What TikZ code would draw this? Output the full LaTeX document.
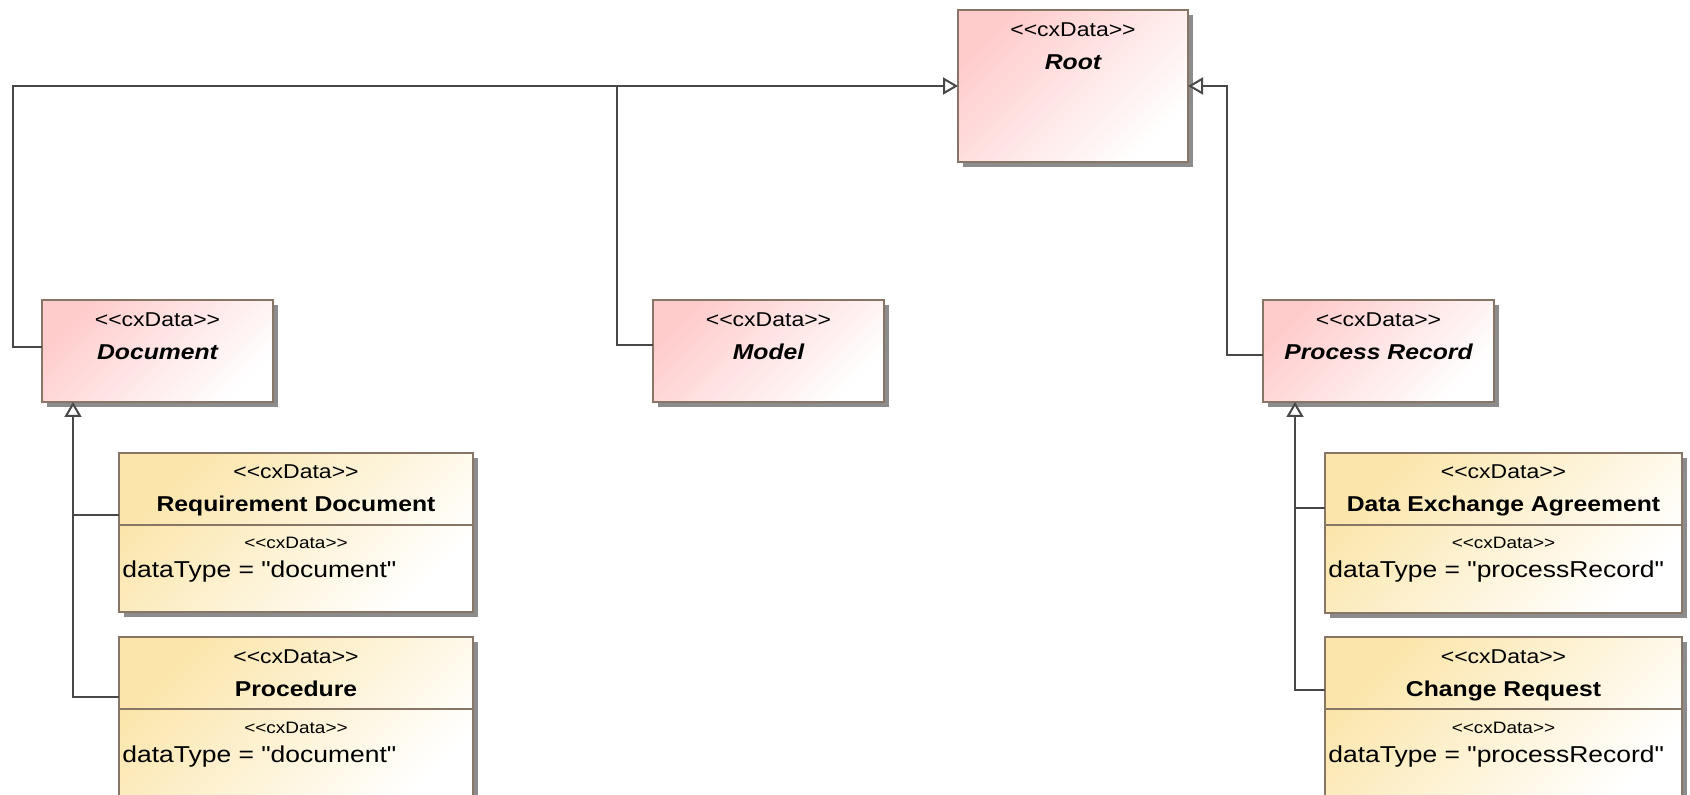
\documentclass[tikz,border=0pt]{standalone}
\usepackage{fontspec}
\setmainfont[FakeStretch=1.15, Ligatures=TeXOff]{Liberation Sans}
\usetikzlibrary{arrows.meta,shadows}

\definecolor{abstrfill}{RGB}{255,204,204}
\definecolor{concfill}{RGB}{251,229,170}
\definecolor{boxline}{RGB}{135,118,102}
\definecolor{wire}{RGB}{72,72,72}

% stereotype text, kerned so << and >> stay two characters
\newcommand{\stname}[1]{<\kern0pt<#1>\kern0pt>}

\begin{document}
\begin{tikzpicture}[x=0.5pt,y=-0.5pt,
  umlbox/.style={rectangle, draw=boxline, line width=1pt, inner sep=0pt,
    outer sep=0pt, anchor=north west,
    drop shadow={shadow xshift=2.5pt, shadow yshift=-2.5pt, opacity=0.45, fill=black}},
  abstractbox/.style={umlbox, top color=abstrfill, bottom color=white,
    shading angle=45, minimum width=115.5pt, minimum height=51pt},
  classbox/.style={umlbox, top color=concfill, bottom color=white,
    shading angle=45},
  stereo/.style={anchor=base, inner sep=0pt,
    font=\fontsize{10pt}{12pt}\selectfont},
  absname/.style={anchor=base, inner sep=0pt,
    font=\fontsize{10.75pt}{13pt}\selectfont\bfseries\itshape},
  clsname/.style={anchor=base, inner sep=0pt,
    font=\fontsize{10.75pt}{13pt}\selectfont\bfseries},
  smallstereo/.style={anchor=base, inner sep=0pt,
    font=\fontsize{8.25pt}{10pt}\selectfont},
  attr/.style={anchor=base west, inner sep=0pt,
    font=\fontsize{11.5pt}{14pt}\selectfont},
  divider/.style={draw=boxline, line width=1pt},
  wireline/.style={draw=wire, line width=1pt},
  gen/.style={wireline, -{Triangle[length=7.5pt, width=8.5pt, fill=white]}}
]
\useasboundingbox (0,0) rectangle (1690,795);
\clip (0,0) rectangle (1690,795);

% ---- abstract classes ----
\node[abstractbox, minimum width=115pt, minimum height=76pt] (root) at (958,10) {};
\node[stereo]  (root-st) at ([yshift=-13.5pt]root.north) {\stname{cxData}};
\node[absname] (root-nm) at ([yshift=-30pt]root.north) {Root};

\node[abstractbox] (doc) at (42,300) {};
\node[stereo]  (doc-st) at ([yshift=-13.5pt]doc.north) {\stname{cxData}};
\node[absname] (doc-nm) at ([yshift=-30pt]doc.north) {Document};

\node[abstractbox] (model) at (653,300) {};
\node[stereo]  (model-st) at ([yshift=-13.5pt]model.north) {\stname{cxData}};
\node[absname] (model-nm) at ([yshift=-30pt]model.north) {Model};

\node[abstractbox] (pr) at (1263,300) {};
\node[stereo]  (pr-st) at ([yshift=-13.5pt]pr.north) {\stname{cxData}};
\node[absname] (pr-nm) at ([yshift=-30pt]pr.north) {Process Record};

% ---- concrete classes with one attribute compartment ----
\node[classbox, minimum width=177pt, minimum height=79.5pt] (req) at (119,453) {};
\node[classbox, minimum width=177pt, minimum height=85pt] (proc) at (119,637) {};
\node[classbox, minimum width=178.5pt, minimum height=80pt] (dea) at (1325,453) {};
\node[classbox, minimum width=178.5pt, minimum height=85pt] (cr) at (1325,637) {};

\foreach \b/\title/\val in {req/Requirement Document/document,
                            proc/Procedure/document,
                            dea/Data Exchange Agreement/processRecord,
                            cr/Change Request/processRecord}{
  \node[stereo]  (\b-st) at ([yshift=-13pt]\b.north) {\stname{cxData}};
  \node[clsname] (\b-nm) at ([yshift=-29.5pt]\b.north) {\title};
  \draw[divider] ([yshift=-36pt]\b.north west) -- ([yshift=-36pt]\b.north east);
  \node[smallstereo] (\b-ast) at ([yshift=-48pt]\b.north) {\stname{cxData}};
  \node[attr] (\b-at) at ([xshift=1.5pt,yshift=-62.5pt]\b.north west)
    {dataType = "\val"};
}

% ---- generalisations ----
\coordinate (jl) at (13,86);
\coordinate (jm) at (617,86);
\coordinate (jr) at (1227,86);
\draw[gen] ([yshift=2pt]doc.west) -| (jl) -- (root.west);
\draw[wireline] ([yshift=3pt]model.west) -| (jm);
\draw[gen] ([yshift=-2pt]pr.west) -| (jr) -- (root.east);

\coordinate (dt) at ([xshift=15.5pt]doc.south west);
\draw[wireline] ([yshift=-31pt]req.north west) coordinate (rq) -- (rq -| dt);
\draw[gen] ([yshift=-30pt]proc.north west) -| (dt);

\coordinate (ptr) at ([xshift=16pt]pr.south west);
\draw[wireline] ([yshift=-27.5pt]dea.north west) coordinate (da) -- (da -| ptr);
\draw[gen] ([yshift=-26.5pt]cr.north west) -| (ptr);
\end{tikzpicture}
\end{document}
